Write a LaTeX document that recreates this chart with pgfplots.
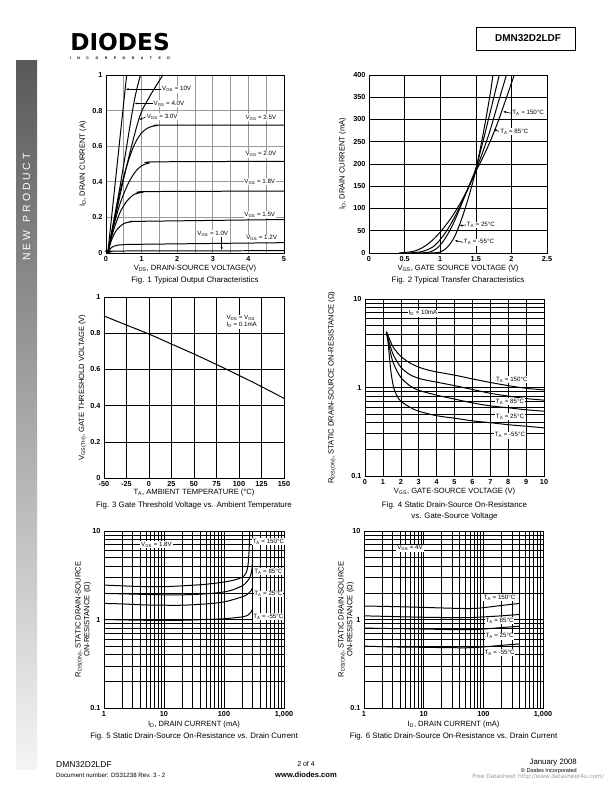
\documentclass[border=0pt]{standalone}
\usepackage{fontspec}
\setmainfont{Liberation Sans}
\newfontfamily\logofont{DejaVu Sans}
\usepackage{pgfplots}
\pgfplotsset{compat=1.18}
\usetikzlibrary{arrows.meta}

\newcommand{\sub}[1]{\textsubscript{#1}}
\newcommand{\tkf}{\bfseries\fontsize{7.3}{8}\selectfont}
\newcommand{\lbf}{\fontsize{7.6}{8.8}\selectfont}
\newcommand{\cpf}{\fontsize{7.9}{9}\selectfont}
\newcommand{\tgf}{\fontsize{6.2}{7}\selectfont}

\tikzset{tag/.style={font=\tgf, fill=white, inner sep=0.8pt}}
\pgfplotsset{
  ds/.style={
    scale only axis, width=178bp, height=178bp, anchor=south west, clip=false,
    axis line style={line width=0.8pt},
    major tick length=0pt, minor tick length=0pt,
    tick label style={font=\tkf},
    /pgf/number format/assume math mode=true,
    label style={font=\lbf},
    grid style={black, line width=0.55pt},
    major grid style={black, line width=0.55pt},
    minor grid style={black, line width=0.55pt},
    xlabel style={at={(axis description cs:0.5,-0.085)}, anchor=center},
  },
  crv/.style={black, line width=1pt, smooth, no marks},
}

\begin{document}
\begin{tikzpicture}
\useasboundingbox (0,0) rectangle (612bp,792bp);
\fill[white] (0,0) rectangle (612bp,792bp);

% side bar
\shade[top color=black!65, bottom color=black!4] (16bp,22bp) rectangle (37bp,731bp);
\node[white, rotate=90, font=\fontsize{10.5}{12}\selectfont] at (26.5bp,585bp)
  {\makebox[107bp][s]{N\hfill E\hfill W\hfill\hfill\hfill P\hfill R\hfill O\hfill D\hfill U\hfill C\hfill T}};

% header
\node[font=\logofont\bfseries\fontsize{23.3}{24}\selectfont, inner sep=0pt] at (120bp,749.5bp) {DIODES};
\node[font=\bfseries\fontsize{3.6}{4}\selectfont, inner sep=0pt] at (120bp,734bp)
  {\makebox[100bp][s]{I\hfill N\hfill C\hfill O\hfill R\hfill P\hfill O\hfill R\hfill A\hfill T\hfill E\hfill D}};
\draw[line width=0.8pt] (476bp,742bp) rectangle (575bp,765bp);
\node[font=\bfseries\fontsize{10}{11}\selectfont, inner sep=0pt] at (528bp,753.5bp) {DMN32D2LDF};

% footer
\node[anchor=west, font=\fontsize{8.5}{10}\selectfont, inner sep=0pt] at (56bp,27bp) {DMN32D2LDF};
\node[anchor=west, font=\fontsize{6.2}{7}\selectfont, inner sep=0pt] at (56bp,17bp) {Document number: DS31238 Rev. 3 - 2};
\node[font=\fontsize{7}{8}\selectfont, inner sep=0pt] at (306bp,28bp) {2 of 4};
\node[font=\bfseries\fontsize{7.6}{9}\selectfont, inner sep=0pt] at (306bp,17bp) {www.diodes.com};
\node[anchor=east, font=\fontsize{7.8}{9}\selectfont, inner sep=0pt] at (577bp,29bp) {January 2008};
\node[anchor=east, font=\fontsize{5.6}{6}\selectfont, inner sep=0pt] at (577bp,21bp) {© Diodes Incorporated};
\node[anchor=east, font=\logofont\fontsize{5.8}{7}\selectfont, text=black!40, inner sep=0pt] at (604bp,15bp) {Free Datasheet http://www.datasheet4u.com/};

% ---------- Fig. 1
\begin{axis}[ds, at={(106bp,539bp)},
  xmin=0, xmax=5, ymin=0, ymax=1,
  xtick={0,1,2,3,4,5}, ytick={0,0.2,0.4,0.6,0.8,1},
  minor xtick={0.5,1.5,2.5,3.5,4.5},
  xmajorgrids, xminorgrids, ymajorgrids,
  major grid style={black!40, line width=0.7pt},
  minor grid style={black!40, line width=0.7pt},
  ylabel={I\sub{D}, DRAIN CURRENT (A)},
  ylabel style={at={(axis description cs:-0.13,0.5)}, anchor=center},
  xlabel={V\sub{DS}, DRAIN-SOURCE VOLTAGE(V)}]
\addplot[crv] coordinates {(0.05,0)(0.58,1)};
\addplot[crv] coordinates {(0.05,0)(0.4,0.38)(0.78,0.84)(0.97,1.0)};
\addplot[crv] coordinates {(0.05,0)(0.5,0.42)(0.92,0.75)(1.2,0.87)(1.6,1.0)};
\addplot[crv] coordinates {(0.05,0)(0.2,0.16)(0.4,0.35)(0.6,0.5)(0.8,0.61)(1.0,0.675)(1.2,0.705)(1.4,0.715)(1.6,0.718)(5,0.718)};
\addplot[crv] coordinates {(0.05,0)(0.2,0.14)(0.4,0.28)(0.6,0.38)(0.8,0.45)(1.0,0.49)(1.2,0.505)(1.4,0.512)(5,0.515)};
\addplot[crv] coordinates {(0.05,0)(0.2,0.12)(0.4,0.23)(0.6,0.295)(0.8,0.33)(1.0,0.34)(1.2,0.345)(5,0.348)};
\addplot[crv] coordinates {(0.05,0)(0.15,0.07)(0.3,0.13)(0.5,0.165)(0.7,0.175)(1.0,0.178)(5,0.188)};
\addplot[crv] coordinates {(0.05,0)(0.15,0.03)(0.3,0.043)(0.5,0.047)(1,0.049)(5,0.058)};
\addplot[crv] coordinates {(0.05,0)(0.15,0.008)(0.3,0.011)(5,0.013)};
\draw[-{Latex[length=3pt,width=2.2pt]}, line width=0.6pt] (axis cs:1.55,0.92) -- (axis cs:0.55,0.92);
\node[tag, anchor=west] at (axis cs:1.55,0.92) {V\sub{GS} = 10V};
\draw[-{Latex[length=3pt,width=2.2pt]}, line width=0.6pt] (axis cs:1.31,0.84) -- (axis cs:0.8,0.84);
\node[tag, anchor=west] at (axis cs:1.31,0.84) {V\sub{GS} = 4.0V};
\draw[-{Latex[length=3pt,width=2.2pt]}, line width=0.6pt] (axis cs:1.12,0.765) -- (axis cs:0.93,0.748);
\node[tag, anchor=west] at (axis cs:1.12,0.765) {V\sub{GS} = 3.0V};
\node[tag] at (axis cs:4.35,0.76) {V\sub{GS} = 2.5V};
\node[tag] at (axis cs:4.35,0.555) {V\sub{GS} = 2.0V};
\node[tag] at (axis cs:4.32,0.40) {V\sub{GS} = 1.8V};
\node[tag] at (axis cs:4.32,0.215) {V\sub{GS} = 1.5V};
\node[tag] at (axis cs:4.37,0.084) {V\sub{GS} = 1.2V};
\node[tag] at (axis cs:3.0,0.108) {V\sub{GS} = 1.0V};
\draw[-{Latex[length=3pt,width=2.2pt]}, line width=0.6pt] (axis cs:3.25,0.088) -- (axis cs:3.25,0.015);
\node[font=\cpf] at (rel axis cs:0.5,-0.157) {Fig. 1 Typical Output Characteristics};
\end{axis}

% ---------- Fig. 2
\begin{axis}[ds, at={(369bp,539bp)},
  xmin=0, xmax=2.5, ymin=0, ymax=400,
  xtick={0,0.5,1,1.5,2,2.5}, ytick={0,50,...,400},
  xmajorgrids, ymajorgrids,
  ylabel={I\sub{D}, DRAIN CURRENT (mA)},
  ylabel style={at={(axis description cs:-0.148,0.5)}, anchor=center},
  xlabel={V\sub{GS}, GATE SOURCE VOLTAGE (V)}]
\addplot[crv] coordinates {(0.42,0)(0.6,3)(0.7,8)(0.8,17)(0.9,30)(1.0,47)(1.1,67)(1.2,90)(1.3,117)(1.4,148)(1.5,183)(1.6,215)(1.7,250)(1.8,290)(1.9,335)(2.04,400)};
\addplot[crv] coordinates {(0.55,0)(0.7,2)(0.8,6)(0.9,14)(1.0,30)(1.1,52)(1.2,80)(1.3,112)(1.4,148)(1.5,186)(1.6,228)(1.7,275)(1.8,330)(1.93,400)};
\addplot[crv] coordinates {(0.7,0)(0.85,2)(0.95,10)(1.05,28)(1.15,55)(1.25,90)(1.35,130)(1.45,168)(1.5,190)(1.6,250)(1.7,315)(1.83,400)};
\addplot[crv] coordinates {(0.85,0)(1.0,2)(1.1,13)(1.2,36)(1.3,76)(1.4,126)(1.5,186)(1.6,265)(1.7,355)(1.74,400)};
\draw[-{Latex[length=3pt,width=2.2pt]}, line width=0.6pt] (axis cs:2.0,314) -- (axis cs:1.88,318);
\node[tag, anchor=west] at (axis cs:2.0,314) {T\sub{A} = 150°C};
\draw[-{Latex[length=3pt,width=2.2pt]}, line width=0.6pt] (axis cs:1.83,273) -- (axis cs:1.75,278);
\node[tag, anchor=west] at (axis cs:1.83,273) {T\sub{A} = 85°C};
\draw[-{Latex[length=3pt,width=2.2pt]}, line width=0.6pt] (axis cs:1.36,63) -- (axis cs:1.27,61);
\node[tag, anchor=west] at (axis cs:1.36,63) {T\sub{A} = 25°C};
\draw[-{Latex[length=3pt,width=2.2pt]}, line width=0.6pt] (axis cs:1.32,24) -- (axis cs:1.2,28);
\node[tag, anchor=west] at (axis cs:1.32,24) {T\sub{A} = -55°C};
\node[font=\cpf] at (rel axis cs:0.5,-0.157) {Fig. 2 Typical Transfer Characteristics};
\end{axis}

% ---------- Fig. 3
\begin{axis}[ds, at={(104bp,314bp)}, width=180bp, height=181bp,
  xmin=-50, xmax=150, ymin=0, ymax=1,
  xtick={-50,-25,0,25,50,75,100,125,150}, ytick={0,0.2,0.4,0.6,0.8,1},
  xmajorgrids, ymajorgrids,
  ylabel={V\sub{GS(TH)}, GATE THRESHOLD VOLTAGE (V)},
  ylabel style={at={(axis description cs:-0.12,0.5)}, anchor=center},
  xlabel={T\sub{A}, AMBIENT TEMPERATURE (°C)},
  xlabel style={at={(axis description cs:0.5,-0.078)}}]
\addplot[crv] coordinates {(-50,0.895)(-25,0.845)(0,0.795)(25,0.74)(50,0.685)(75,0.627)(100,0.567)(125,0.505)(150,0.44)};
\node[tag, align=left] at (axis cs:103,0.864) {V\sub{DS} = V\sub{GS}\\I\sub{D} = 0.1mA};
\node[font=\cpf] at (rel axis cs:0.5,-0.15) {Fig. 3 Gate Threshold Voltage vs. Ambient Temperature};
\end{axis}

% ---------- Fig. 4
\begin{axis}[ds, at={(365bp,316bp)}, width=179bp, height=177bp,
  xmin=0, xmax=10, ymode=log, ymin=0.1, ymax=10,
  xtick={0,1,...,10}, ytick={0.1,1,10}, yticklabels={0.1,1,10},
  xmajorgrids, ymajorgrids, yminorgrids,
  ylabel={R\sub{DS(ON)}, STATIC DRAIN-SOURCE ON-RESISTANCE (Ω)},
  ylabel style={at={(axis description cs:-0.185,0.5)}, anchor=center},
  xlabel={V\sub{GS}, GATE-SOURCE VOLTAGE (V)},
  xlabel style={at={(axis description cs:0.5,-0.09)}}]
\addplot[crv] coordinates {(1.2,4.3)(1.4,3.4)(1.6,2.8)(2,2.25)(2.5,1.9)(3,1.7)(3.5,1.58)(4,1.5)(5,1.38)(6,1.25)(7,1.14)(8,1.05)(9,0.98)(10,0.94)};
\addplot[crv] coordinates {(1.2,4.2)(1.4,3.0)(1.6,2.3)(2,1.7)(2.5,1.4)(3,1.27)(3.5,1.2)(4,1.15)(5,1.05)(6,0.95)(7,0.86)(8,0.8)(9,0.75)(10,0.72)};
\addplot[crv] coordinates {(1.2,4.1)(1.4,2.6)(1.6,1.85)(2,1.3)(2.5,1.05)(3,0.93)(4,0.82)(5,0.74)(6,0.67)(7,0.62)(8,0.59)(9,0.56)(10,0.54)};
\addplot[crv] coordinates {(1.25,4.0)(1.35,2.4)(1.45,1.5)(1.6,1.0)(1.8,0.8)(2,0.7)(2.5,0.6)(3,0.54)(4,0.48)(5,0.45)(6,0.42)(7,0.4)(8,0.38)(9,0.365)(10,0.35)};
\node[tag] at (axis cs:3.24,6.9) {I\sub{D} = 10mA};
\node[tag] at (axis cs:8.2,1.22) {T\sub{A} = 150°C};
\node[tag] at (axis cs:8.1,0.69) {T\sub{A} = 85°C};
\node[tag] at (axis cs:8.1,0.47) {T\sub{A} = 25°C};
\node[tag] at (axis cs:8.1,0.29) {T\sub{A} = -55°C};
\node[font=\cpf] at (rel axis cs:0.5,-0.164) {Fig. 4 Static Drain-Source On-Resistance};
\node[font=\cpf] at (rel axis cs:0.5,-0.226) {vs. Gate-Source Voltage};
\end{axis}

% ---------- Fig. 5
\begin{axis}[ds, at={(104bp,84bp)}, width=180bp, height=177bp,
  xmode=log, ymode=log, xmin=1, xmax=1000, ymin=0.1, ymax=10,
  xtick={1,10,100,1000}, xticklabels={1,10,100,{1,000}},
  ytick={0.1,1,10}, yticklabels={0.1,1,10},
  xmajorgrids, xminorgrids, ymajorgrids, yminorgrids,
  ylabel={R\sub{DS(ON)}, STATIC DRAIN-SOURCE\\ON-RESISTANCE (Ω)},
  ylabel style={at={(axis description cs:-0.116,0.5)}, anchor=center, align=center},
  xlabel={I\sub{D}, DRAIN CURRENT (mA)},
  xlabel style={at={(axis description cs:0.5,-0.093)}}]
\addplot[crv] coordinates {(1,2.45)(2,2.4)(5,2.35)(10,2.35)(20,2.4)(50,2.5)(100,2.65)(150,2.8)(200,3.0)(230,3.3)(250,4.0)(262,6)(268,10)};
\addplot[crv] coordinates {(1,1.97)(2,1.95)(5,1.92)(10,1.9)(20,1.9)(50,1.95)(100,2.05)(150,2.2)(220,2.5)(270,3.0)(290,3.6)(300,4.7)};
\addplot[crv] coordinates {(1,1.52)(2,1.5)(5,1.46)(10,1.45)(20,1.45)(50,1.5)(100,1.58)(200,1.8)(250,1.95)(280,2.1)(300,2.3)};
\addplot[crv] coordinates {(1,1.0)(2,0.99)(5,0.98)(10,0.98)(20,0.98)(50,1.0)(100,1.02)(200,1.07)(250,1.12)(280,1.2)(300,1.32)};
\node[tag] at (axis cs:7.5,7.06) {V\sub{GS} = 1.8V};
\node[tag] at (axis cs:548,7.6) {T\sub{A} = 150°C};
\node[tag] at (axis cs:548,3.46) {T\sub{A} = 85°C};
\node[tag] at (axis cs:548,1.94) {T\sub{A} = 25°C};
\node[tag] at (axis cs:548,1.07) {T\sub{A} = -55°C};
\node[font=\cpf] at (rel axis cs:0.5,-0.16) {Fig. 5 Static Drain-Source On-Resistance vs. Drain Current};
\end{axis}

% ---------- Fig. 6
\begin{axis}[ds, at={(364bp,84bp)}, width=179bp, height=177bp,
  xmode=log, ymode=log, xmin=1, xmax=1000, ymin=0.1, ymax=10,
  xtick={1,10,100,1000}, xticklabels={1,10,100,{1,000}},
  ytick={0.1,1,10}, yticklabels={0.1,1,10},
  xmajorgrids, xminorgrids, ymajorgrids, yminorgrids,
  ylabel={R\sub{DS(ON)}, STATIC DRAIN-SOURCE\\ON-RESISTANCE (Ω)},
  ylabel style={at={(axis description cs:-0.1,0.5)}, anchor=center, align=center},
  xlabel={I\sub{D}, DRAIN CURRENT (mA)},
  xlabel style={at={(axis description cs:0.5,-0.093)}}]
\addplot[crv] coordinates {(1,1.42)(3,1.4)(10,1.37)(30,1.34)(60,1.33)(100,1.36)(200,1.44)(400,1.52)};
\addplot[crv] coordinates {(1,1.1)(3,1.08)(10,1.06)(30,1.05)(60,1.05)(100,1.07)(200,1.1)(400,1.14)};
\addplot[crv] coordinates {(1,0.8)(3,0.79)(10,0.78)(30,0.77)(60,0.77)(100,0.78)(200,0.81)(400,0.84)};
\addplot[crv] coordinates {(1,0.5)(3,0.49)(10,0.485)(30,0.48)(60,0.48)(100,0.49)(200,0.51)(400,0.53)};
\node[tag] at (axis cs:5.9,6.4) {V\sub{GS} = 4V};
\node[tag] at (axis cs:187,1.77) {T\sub{A} = 150°C};
\node[tag] at (axis cs:187,0.97) {T\sub{A} = 85°C};
\node[tag] at (axis cs:187,0.65) {T\sub{A} = 25°C};
\node[tag] at (axis cs:187,0.42) {T\sub{A} = -55°C};
\node[font=\cpf] at (rel axis cs:0.5,-0.16) {Fig. 6 Static Drain-Source On-Resistance vs. Drain Current};
\end{axis}
\end{tikzpicture}
\end{document}
